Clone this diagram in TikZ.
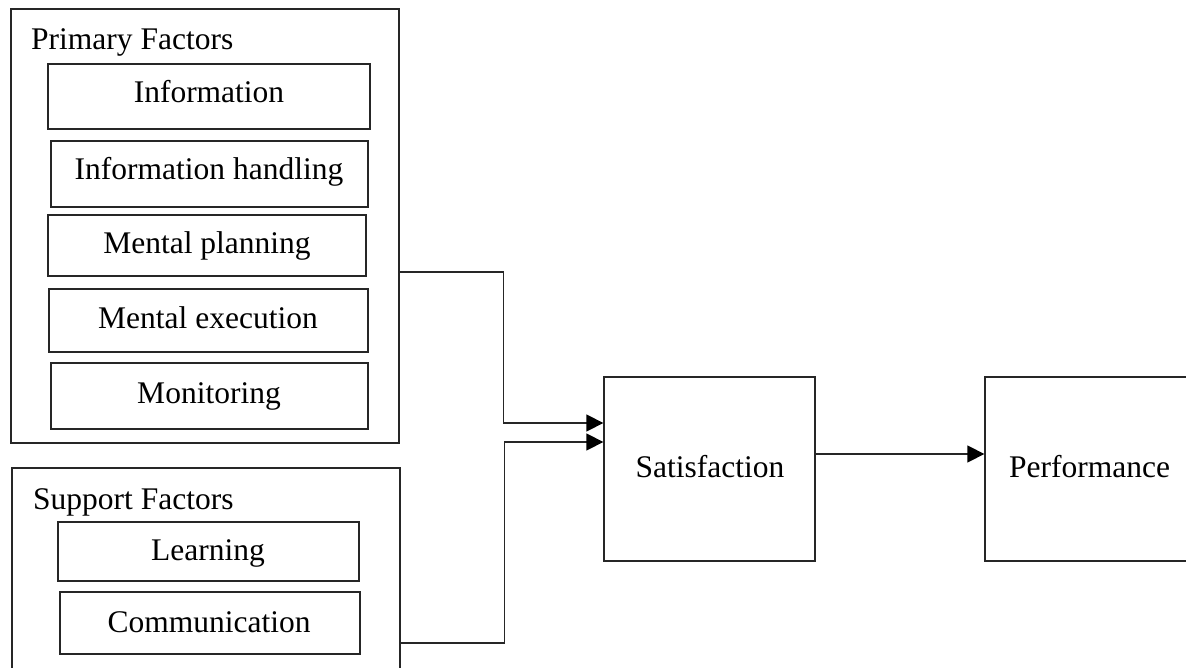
\documentclass[tikz,border=0pt]{standalone}
\usepackage{fontspec}
\setmainfont{Liberation Serif}
\usetikzlibrary{arrows.meta}
\begin{document}
\begin{tikzpicture}[x=1pt,y=-1pt,
  box/.style={draw=black!85,line width=1.3pt,inner sep=0pt,rectangle},
  lbl/.style={anchor=base,inner sep=0pt,font=\fontsize{31.5}{36}\selectfont},
  conn/.style={draw=black!85,line width=1.3pt,-{Triangle[length=17pt,width=17pt,color=black]}}]
\useasboundingbox (0,0) rectangle (1186,668);
% primary group
\node[box,minimum width=388pt,minimum height=434pt] (prim) at (205,226) {};
\node[lbl,anchor=base west] (primt) at (31,50) {Primary Factors};
\node[box,minimum width=322pt,minimum height=65pt] (info) at (209,96.5) {};
\node[lbl] (infot) at (209,103) {Information};
\node[box,minimum width=317pt,minimum height=66pt] (infoh) at (209.5,174) {};
\node[lbl] (infoht) at (209,180) {Information handling};
\node[box,minimum width=318pt,minimum height=61pt] (mp) at (207,245.5) {};
\node[lbl] (mpt) at (207,254) {Mental planning};
\node[box,minimum width=319pt,minimum height=63pt] (me) at (208.5,320.5) {};
\node[lbl] (met) at (208,328) {Mental execution};
\node[box,minimum width=317pt,minimum height=66pt] (mon) at (209.5,396) {};
\node[lbl] (mont) at (209,403) {Monitoring};
% support group
\node[box,minimum width=388pt,minimum height=260pt] (supp) at (206,598) {};
\node[lbl,anchor=base west] (suppt) at (33,509) {Support Factors};
\node[box,minimum width=301pt,minimum height=59pt] (learn) at (208.5,551.5) {};
\node[lbl] (learnt) at (208,560) {Learning};
\node[box,minimum width=300pt,minimum height=62pt] (comm) at (210,623) {};
\node[lbl] (commt) at (209,632) {Communication};
% outcome boxes
\node[box,minimum width=211pt,minimum height=184pt] (sat) at (709.5,469) {};
\node[lbl] (satt) at (710,477) {Satisfaction};
\node[box,minimum width=215pt,minimum height=184pt] (perf) at (1092.5,469) {};
\node[lbl] (perft) at (1089.5,477) {Performance};
% connectors
\draw[conn] ([yshift=-46pt]prim.east) -- ++(104,0) |- ([yshift=46pt]sat.west);
\draw[conn] ([yshift=-45pt]supp.east) -- ++(104,0) |- ([yshift=27pt]sat.west);
\draw[conn] ([yshift=15pt]sat.east) -- ([yshift=15pt]perf.west);
\end{tikzpicture}
\end{document}
